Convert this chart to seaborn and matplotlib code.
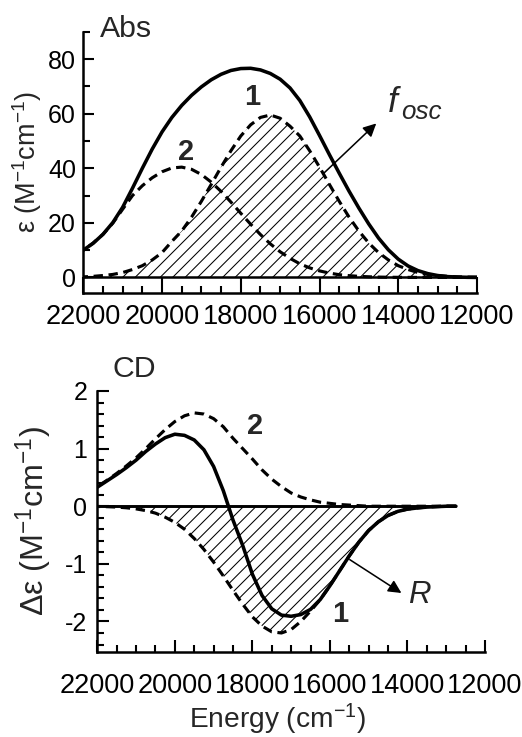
import numpy as np
import pandas as pd
import matplotlib
matplotlib.use("Agg")
import matplotlib.pyplot as plt
from matplotlib.ticker import MultipleLocator
import seaborn as sns

# ---------------- data ----------------
# Absorption spectrum, 22000 -> 12000 cm^-1 in 250 cm^-1 steps
energy_abs = list(range(22000, 11999, -250))
abs_total = [10.0, 12.5, 15.8, 20.1, 25.7, 32.7, 40.0, 47.0, 53.3, 58.6,
             63.0, 66.7, 69.8, 72.4, 74.4, 75.8, 76.5, 76.6, 76.0, 74.7,
             72.6, 69.4, 64.8, 58.8, 52.0, 45.0, 38.2, 31.6, 25.4, 19.6,
             14.4, 10.1, 6.7, 4.2, 2.5, 1.4, 0.7, 0.3, 0.15, 0.05, 0.0]
abs_band1 = [0.2, 0.4, 0.7, 1.1, 1.8, 2.9, 4.3, 6.4, 9.1, 13.2,
             17.0, 22.1, 27.9, 34.1, 40.4, 46.4, 51.8, 55.9, 58.6, 59.5,
             58.3, 55.4, 51.8, 46.4, 40.4, 34.1, 27.9, 22.1, 17.0, 12.6,
             9.1, 6.4, 4.3, 2.9, 1.8, 1.1, 0.7, 0.4, 0.2, 0.1, 0.1]
abs_band2 = [10.0, 12.6, 15.8, 19.9, 25.0, 30.0, 33.6, 36.5, 38.7, 40.1,
             40.4, 39.6, 37.7, 34.9, 31.5, 27.6, 23.5, 19.5, 15.7, 12.3,
             9.4, 7.0, 5.0, 3.5, 2.4, 1.6, 1.0, 0.65, 0.4, 0.24,
             0.13, 0.07, 0.04, 0.02, 0.01, 0.0, 0.0, 0.0, 0.0, 0.0, 0.0]

# CD spectrum, 22000 -> 12750 cm^-1 in 250 cm^-1 steps
energy_cd = list(range(22000, 12749, -250))
cd_total = [0.33, 0.44, 0.55, 0.67, 0.80, 0.95, 1.08, 1.19, 1.25, 1.23,
            1.15, 0.98, 0.69, 0.27, -0.24, -0.68, -1.18, -1.55, -1.78, -1.89,
            -1.91, -1.88, -1.79, -1.62, -1.38, -1.12, -0.86, -0.62, -0.42, -0.27,
            -0.16, -0.09, -0.05, -0.03, -0.015, -0.007, 0.0, 0.0]
cd_band1 = [-0.004, -0.008, -0.015, -0.027, -0.046, -0.076, -0.12, -0.19, -0.28, -0.40,
            -0.56, -0.75, -0.97, -1.21, -1.46, -1.70, -1.92, -2.08, -2.18, -2.20,
            -2.14, -2.00, -1.82, -1.62, -1.38, -1.12, -0.86, -0.62, -0.42, -0.27,
            -0.16, -0.09, -0.05, -0.03, -0.015, -0.007, 0.0, 0.0]
cd_band2 = [0.34, 0.45, 0.57, 0.70, 0.84, 1.00, 1.17, 1.33, 1.47, 1.57,
            1.62, 1.60, 1.52, 1.38, 1.18, 1.00, 0.82, 0.63, 0.47, 0.34,
            0.23, 0.16, 0.11, 0.07, 0.05, 0.03, 0.02, 0.01, 0.0, 0.0,
            0.0, 0.0, 0.0, 0.0, 0.0, 0.0, 0.0, 0.0]

abs_df = pd.DataFrame({"energy": energy_abs, "total": abs_total,
                       "band1": abs_band1, "band2": abs_band2})
cd_df = pd.DataFrame({"energy": energy_cd, "total": cd_total,
                      "band1": cd_band1, "band2": cd_band2})

# ---------------- style ----------------
sns.set_theme(style="ticks")
plt.rcParams.update({
    "font.family": ["Liberation Sans", "DejaVu Sans"],
    "mathtext.fontset": "custom",
    "mathtext.rm": "Liberation Sans",
    "mathtext.it": "Liberation Sans:italic",
    "mathtext.bf": "Liberation Sans:bold",
    "axes.unicode_minus": False,
    "axes.edgecolor": "black",
    "axes.linewidth": 2.4,
    "xtick.color": "black",
    "ytick.color": "black",
    "hatch.linewidth": 1.0,
    "hatch.color": "black",
})

DPI = 75
W, H = 522, 737
fig = plt.figure(figsize=(W / DPI, H / DPI), dpi=DPI)
fig.patch.set_facecolor("white")

SOLID_LW = 3.4
DASH_LW = 3.0
DASH = (0, (3.0, 1.8))
TICK_FS = 26


def style_axis(ax, xpad, ypad, xmaj_len, ymaj_len):
    sns.despine(ax=ax)
    ax.set_facecolor("white")
    ax.set_xlim(22000, 12000)
    ax.xaxis.set_major_locator(MultipleLocator(2000))
    ax.xaxis.set_minor_locator(MultipleLocator(500))
    ax.tick_params(axis="x", which="major", direction="in", length=xmaj_len,
                   width=2.0, pad=xpad, labelsize=TICK_FS)
    ax.tick_params(axis="x", which="minor", direction="in", length=6.5, width=2.0)
    ax.tick_params(axis="y", which="major", direction="in", length=ymaj_len,
                   width=2.0, pad=ypad, labelsize=TICK_FS - 2)
    ax.tick_params(axis="y", which="minor", direction="in", length=6.5, width=2.0)
    ax.set_xlabel("")
    ax.set_ylabel("")


# ---------------- absorption panel ----------------
ax1 = fig.add_axes([83.3 / W, 1 - 293 / H, 393.7 / W, 261.3 / H])
ax1.fill_between(abs_df["energy"], abs_df["band1"], 0, facecolor="none",
                 edgecolor="black", hatch="//", linewidth=0)
sns.lineplot(data=abs_df, x="energy", y="band2", ax=ax1, color="black",
             lw=DASH_LW, linestyle=DASH, legend=False)
sns.lineplot(data=abs_df, x="energy", y="band1", ax=ax1, color="black",
             lw=DASH_LW, linestyle=DASH, legend=False)
sns.lineplot(data=abs_df, x="energy", y="total", ax=ax1, color="black",
             lw=SOLID_LW, legend=False)
ax1.axhline(0, color="black", lw=2.4)
style_axis(ax1, xpad=10.5, ypad=7, xmaj_len=14.9, ymaj_len=11)
ax1.set_ylim(-5.7, 90)
ax1.yaxis.set_major_locator(MultipleLocator(20))
ax1.yaxis.set_minor_locator(MultipleLocator(10))
ax1.set_ylabel("ε (M$^{-1}$cm$^{-1}$)", fontsize=26)
ax1.yaxis.set_label_coords(-0.10, 0.5)

ax1.text(0.043, 0.98, "Abs", transform=ax1.transAxes, fontsize=29,
         ha="left", va="baseline")
ax1.text(17715, 66, "1", fontsize=28, fontweight="bold", ha="center", va="center")
ax1.text(19382, 45.8, "2", fontsize=28, fontweight="bold", ha="center", va="center")
ax1.text(14256, 60.5, "f", fontsize=34, style="italic", ha="left", va="baseline")
ax1.text(13930, 58.0, "osc", fontsize=25, style="italic", ha="left", va="baseline")
ax1.annotate("", xy=(14559, 56.4), xytext=(15897, 38.1),
             arrowprops=dict(arrowstyle="-|>", lw=1.5, color="black",
                             mutation_scale=26, shrinkA=0, shrinkB=0))

# ---------------- CD panel ----------------
ax2 = fig.add_axes([97.3 / W, 1 - 652 / H, 387.7 / W, 261 / H])
ax2.fill_between(cd_df["energy"], cd_df["band1"], 0, facecolor="none",
                 edgecolor="black", hatch="//", linewidth=0)
ax2.hlines(0, cd_df["energy"].max(), cd_df["energy"].min(), color="black", lw=2.8)
sns.lineplot(data=cd_df, x="energy", y="band2", ax=ax2, color="black",
             lw=DASH_LW, linestyle=DASH, legend=False)
sns.lineplot(data=cd_df, x="energy", y="band1", ax=ax2, color="black",
             lw=DASH_LW, linestyle=DASH, legend=False)
sns.lineplot(data=cd_df, x="energy", y="total", ax=ax2, color="black",
             lw=SOLID_LW, legend=False)
style_axis(ax2, xpad=20, ypad=9.6, xmaj_len=11.5, ymaj_len=11.5)
ax2.set_ylim(-2.53, 2.0)
ax2.yaxis.set_major_locator(MultipleLocator(1))
ax2.yaxis.set_minor_locator(MultipleLocator(0.2))
ax2.set_ylabel("Δε (M$^{-1}$cm$^{-1}$)", fontsize=31)
ax2.yaxis.set_label_coords(-0.11, 0.5)
ax2.set_xlabel("Energy (cm$^{-1}$)", fontsize=27)
ax2.xaxis.set_label_coords(0.4635, -0.19)

ax2.text(0.04, 1.054, "CD", transform=ax2.transAxes, fontsize=29,
         ha="left", va="baseline")
ax2.text(17936, 1.386, "2", fontsize=28, fontweight="bold", ha="center", va="center")
ax2.text(15745, -1.866, "1", fontsize=28, fontweight="bold", ha="center", va="center")
ax2.text(13993, -1.536, "R", fontsize=30, style="italic", ha="left", va="center")
ax2.annotate("", xy=(14156, -1.506), xytext=(15488, -0.927),
             arrowprops=dict(arrowstyle="-|>", lw=1.5, color="black",
                             mutation_scale=26, shrinkA=0, shrinkB=0))

fig.savefig("out.png", dpi=DPI, facecolor="white")
